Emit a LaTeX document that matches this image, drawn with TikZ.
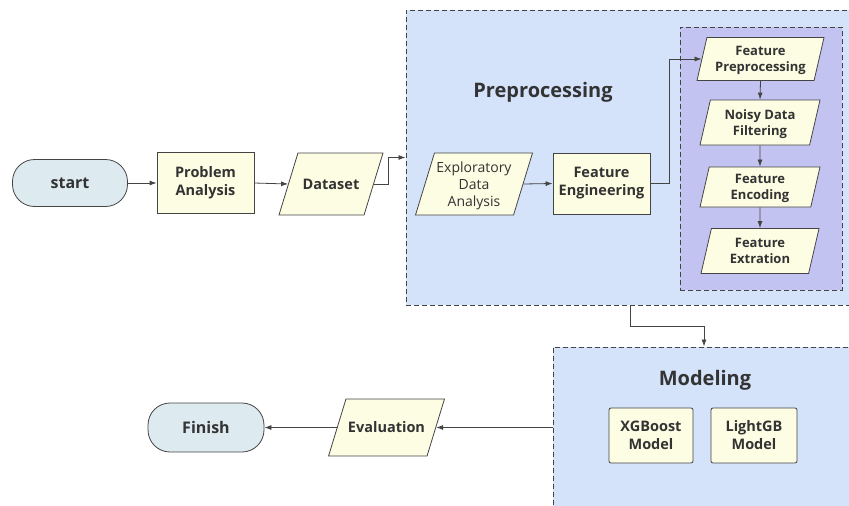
\documentclass[tikz,border=0pt]{standalone}
\usepackage{fontspec}
\setmainfont{Open Sans}
\usetikzlibrary{arrows.meta, fit, positioning, shapes}
\definecolor{termfill}{HTML}{DDEAF0}
\definecolor{boxfill}{HTML}{FDFDE4}
\definecolor{prepfill}{HTML}{D4E3FA}
\definecolor{innerfill}{HTML}{C2C3F1}
\definecolor{linegray}{HTML}{444444}
\begin{document}
\begin{tikzpicture}[x=1pt, y=-1pt]
\tikzstyle{base}=[draw=linegray, line width=0.8pt, text=black!80, font=\bfseries\fontsize{14.5}{18}\selectfont, align=center, inner sep=2pt]
\tikzstyle{term}=[base, rectangle, rounded corners=22pt, fill=termfill, minimum width=115pt, minimum height=47pt, font=\bfseries\fontsize{16}{19}\selectfont]
\tikzstyle{proc}=[base, rectangle, fill=boxfill, minimum width=97pt, minimum height=61pt]
\tikzstyle{io}=[base, trapezium, trapezium left angle=73, trapezium right angle=107, trapezium stretches body, fill=boxfill, minimum width=104pt, minimum height=10pt, text height=10.5pt, text depth=0pt, inner ysep=25.75pt]
\tikzstyle{sub}=[io, trapezium left angle=77, trapezium right angle=103, minimum width=120pt, font=\bfseries\fontsize{13}{16}\selectfont, text height=25.3pt, text depth=0pt]
\tikzstyle{group}=[rectangle, draw=linegray, line width=1pt, dash pattern=on 5pt off 3pt]
\tikzstyle{title}=[text=black!80, font=\bfseries\fontsize{20}{24}\selectfont]
\tikzstyle{connect}=[draw=linegray, line width=0.8pt, -{Latex[length=7pt, width=5pt]}]
\clip (0,0) rectangle (849,506);
\node[group, fill=prepfill, minimum width=449pt, minimum height=295pt] (prep) at (630.5,157.5) {};
\node[group, fill=innerfill, minimum width=162pt, minimum height=263pt] (inner) at (761,158.5) {};
\node[group, fill=prepfill, minimum width=302pt, minimum height=163pt] (modelbox) at (704,428.5) {};
\node[title] (preptitle) at (543,92) {Preprocessing};
\node[title] (modeltitle) at (705,380) {Modeling};
\node[term] (start) at (70,183) {start};
\node[proc] (problem) at (205.5,183) {Problem\\Analysis};
\node[io] (dataset) at (331,184) {Dataset};
\node[io, minimum width=112pt, font=\fontsize{14}{17}\selectfont, text height=44pt, text depth=0pt, inner ysep=9pt] (eda) at (474,184) {Exploratory\\Data\\Analysis};
\node[proc] (feng) at (601.5,183.5) {Feature\\Engineering};
\node[sub, minimum width=127pt, inner ysep=8.85pt] (fprep) at (760.5,59) {Feature\\Preprocessing};
\node[sub, inner ysep=9.85pt] (noisy) at (760,122.5) {Noisy Data\\Filtering};
\node[sub, inner ysep=7.35pt] (fenc) at (760,187) {Feature\\Encoding};
\node[sub, minimum width=118pt, inner ysep=9.85pt] (fext) at (760,251) {Feature\\Extration};
\node[proc, rounded corners=2pt, minimum width=84pt, minimum height=55pt] (xgb) at (651,435.5) {XGBoost\\Model};
\node[proc, rounded corners=2pt, minimum width=86pt, minimum height=55pt] (lgb) at (754,435.5) {LightGB\\Model};
\node[io, minimum width=113pt, inner ysep=23.25pt] (eval) at (386.5,427.5) {Evaluation};
\node[term, minimum width=116pt, minimum height=49pt] (finish) at (206,427.5) {Finish};
\path
    (start.east) edge [connect] (problem.west)
    (problem.east) edge [connect] (dataset.west)
    (eda.east) edge [connect] (feng.west)
    (fprep.south) edge [connect] (noisy.north)
    (noisy.south) edge [connect] (fenc.north)
    (fenc.south) edge [connect] (fext.north)
    (eval.east -| modelbox.west) edge [connect] (eval.east)
    (eval.west) edge [connect] (finish.east)
;
\draw[connect] (dataset.east) -- ++(14,0) |- (prep.west);
\draw[connect] (feng.east) -- ++(19,0) |- (fprep.west);
\draw[connect] (prep.south) -- ++(0,21) -| (modelbox.north);
\end{tikzpicture}
\end{document}
